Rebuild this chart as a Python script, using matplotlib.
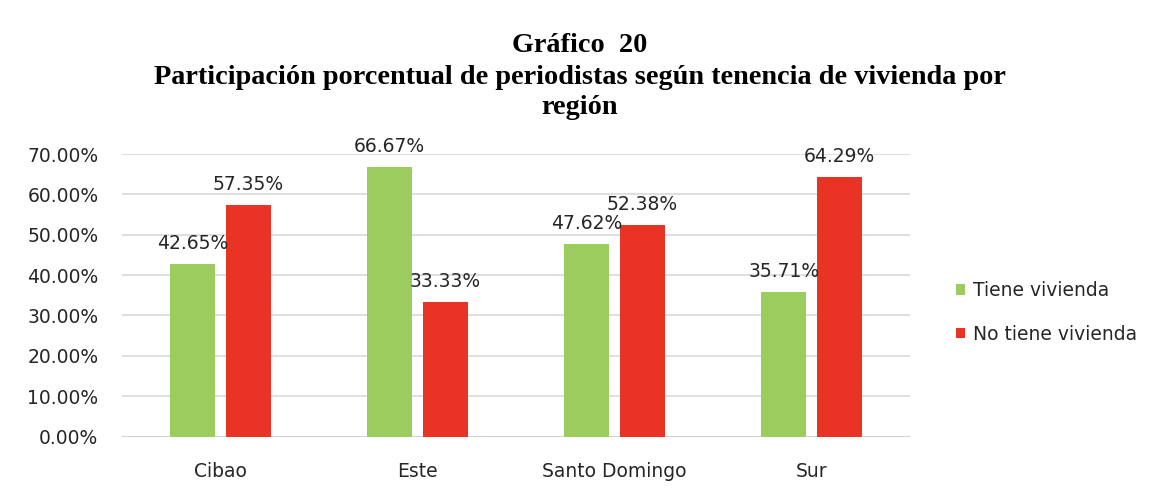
import numpy as np
import matplotlib.pyplot as plt

# Data
regiones = ["Cibao", "Este", "Santo Domingo", "Sur"]
tiene = [42.65, 66.67, 47.62, 35.71]
no_tiene = [57.35, 33.33, 52.38, 64.29]
series_names = ["Tiene vivienda", "No tiene vivienda"]
yticks = [0, 10, 20, 30, 40, 50, 60, 70]

green = "#9CCB5E"
red = "#E83325"
font = "DejaVu Sans"
fs = 13.5

fig = plt.figure(figsize=(11.59, 4.93), dpi=100)
ax = fig.add_axes([0.1053, 0.1146, 0.680, 0.573])

x = np.arange(len(regiones))
w = 0.23
off = 0.142
b1 = ax.bar(x - off, tiene, w, color=green, label=series_names[0], zorder=3)
b2 = ax.bar(x + off, no_tiene, w, color=red, label=series_names[1], zorder=3)

for bars, vals in ((b1, tiene), (b2, no_tiene)):
    for rect, v in zip(bars, vals):
        ax.annotate(f"{v:.2f}%", (rect.get_x() + rect.get_width() / 2, v),
                    xytext=(0, 8), textcoords="offset points",
                    ha="center", va="bottom", fontsize=fs,
                    family=font, color="#262626")

ax.set_xlim(-0.5, len(regiones) - 0.5)
ax.set_ylim(0, 70)
ax.set_yticks(yticks)
ax.set_yticklabels([f"{t:.2f}%" for t in yticks], family=font, fontsize=fs, color="#262626")
ax.set_xticks(x)
ax.set_xticklabels(regiones, family=font, fontsize=fs, color="#262626")
ax.tick_params(length=0, pad=17)
ax.tick_params(axis="x", pad=18)
ax.yaxis.grid(True, color="#D9D9D9", linewidth=1.2, zorder=0)
ax.set_axisbelow(True)
for s in ax.spines.values():
    s.set_visible(False)
ax.axhline(0, color="#D0D0D0", linewidth=1.3, zorder=1)

fig.legend(handles=[b1, b2], loc="center left", bbox_to_anchor=(0.810, 0.366),
           frameon=False, prop={"family": font, "size": fs},
           handlelength=0.5, handleheight=0.5, handletextpad=0.45,
           labelspacing=1.3, labelcolor="#262626")

title_kw = dict(ha="center", va="center", family="Liberation Serif",
                fontweight="bold", fontsize=20.3)
fig.text(0.5, 1 - 45 / 493, "Gráfico  20", **title_kw)
fig.text(0.5, 1 - 78 / 493, "Participación porcentual de periodistas según tenencia de vivienda por", **title_kw)
fig.text(0.5, 1 - 108 / 493, "región", **title_kw)

fig.savefig("out.png", dpi=100, facecolor="white")
